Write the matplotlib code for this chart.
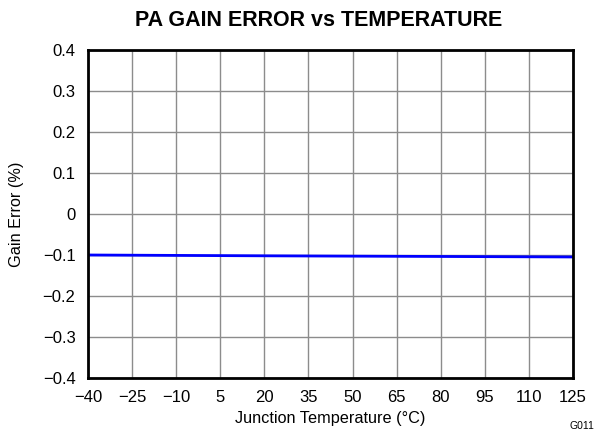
import matplotlib
matplotlib.use("Agg")
import matplotlib.pyplot as plt

plt.rcParams['font.family'] = ['Liberation Sans', 'DejaVu Sans']

# Junction temperature (°C) and gain error (%)
temp = [-40, -25, -10, 5, 20, 35, 50, 65, 80, 95, 110, 125]
gain_err = [-0.1000, -0.1005, -0.1010, -0.1015, -0.1020, -0.1024,
            -0.1028, -0.1032, -0.1036, -0.1040, -0.1044, -0.1048]

xticks = [-40, -25, -10, 5, 20, 35, 50, 65, 80, 95, 110, 125]
yticks = [-0.4, -0.3, -0.2, -0.1, 0, 0.1, 0.2, 0.3, 0.4]
ylabels = ['\u22120.4', '\u22120.3', '\u22120.2', '\u22120.1', '0', '0.1', '0.2', '0.3', '0.4']
xlabels = [str(t).replace('-', '\u2212') for t in xticks]

fig = plt.figure(figsize=(5.95, 4.32), dpi=100)
ax = fig.add_axes([88 / 595, 1 - 378 / 432, (573 - 88) / 595, (378 - 50) / 432])

ax.plot(temp, gain_err, color='#0000ff', lw=2)

ax.set_xlim(-40, 125)
ax.set_ylim(-0.4, 0.4)
ax.set_xticks(xticks)
ax.set_xticklabels(xlabels, fontsize=12)
ax.set_yticks(yticks)
ax.set_yticklabels(ylabels, fontsize=12)
ax.tick_params(axis='x', length=0, pad=9)
ax.tick_params(axis='y', length=0, pad=9)
ax.grid(True, color='#8c8c8c', lw=1)
ax.set_axisbelow(True)
for s in ax.spines.values():
    s.set_linewidth(2)
    s.set_color('black')

ax.set_xlabel('Junction Temperature (\u00b0C)', fontsize=11.7)
ax.xaxis.set_label_coords(0.5, -(418 - 378) / 328, transform=ax.transAxes)
ax.xaxis.label.set_va('center')
ax.set_ylabel('Gain Error (%)', fontsize=11.7)
ax.yaxis.set_label_coords(-(88 - 17) / 485, 0.5, transform=ax.transAxes)
ax.yaxis.label.set_va('center')
fig.text((135 + 503) / 2 / 595, 1 - 20 / 432, 'PA GAIN ERROR vs TEMPERATURE',
         ha='center', va='center', fontsize=15.5, fontweight='bold')
fig.text(594 / 595, 1 - 426 / 432, 'G011', ha='right', va='center', fontsize=7.5)

fig.savefig('out.png', dpi=100)
